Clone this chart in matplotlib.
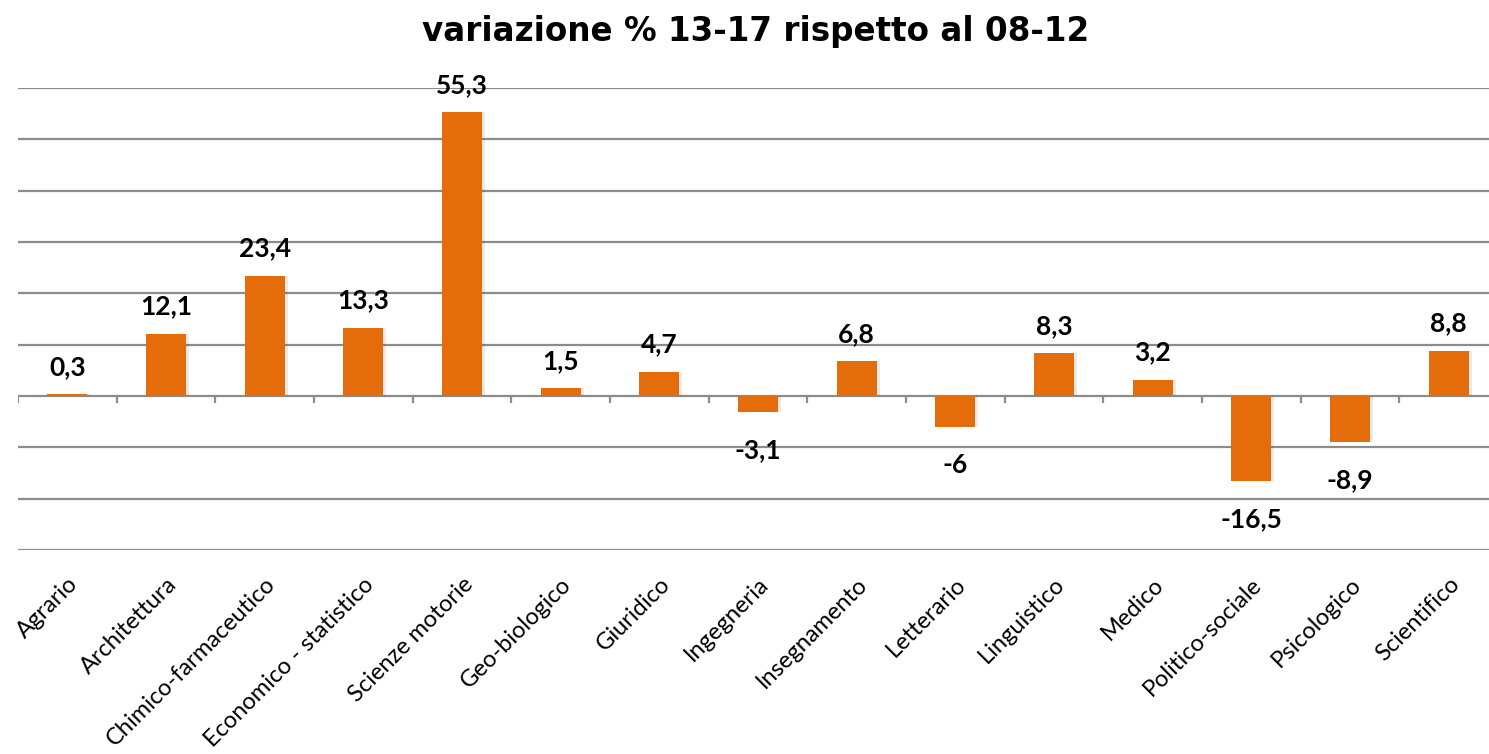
import numpy as np
import matplotlib.pyplot as plt

# dati: variazione % 13-17 rispetto al 08-12
categorie = ['Agrario', 'Architettura', 'Chimico-farmaceutico', 'Economico - statistico',
             'Scienze motorie', 'Geo-biologico', 'Giuridico', 'Ingegneria', 'Insegnamento',
             'Letterario', 'Linguistico', 'Medico', 'Politico-sociale', 'Psicologico',
             'Scientifico']
variazione = [0.3, 12.1, 23.4, 13.3, 55.3, 1.5, 4.7, -3.1, 6.8, -6, 8.3, 3.2, -16.5, -8.9, 8.8]

arancio = '#E46C0A'
grigio = '#8C8C8C'

fig = plt.figure(figsize=(14.89, 7.54), dpi=100)
# l'asse esce un po' a destra come nello screenshot originale
ax = fig.add_axes([18 / 1489, 204 / 754, 1480 / 1489, 462 / 754])

x = np.arange(len(categorie))

# ombra leggera sotto le barre
ax.bar(x + 0.03, variazione, width=0.405, color='#000000', alpha=0.08, zorder=2)
ax.bar(x, variazione, width=0.405, color=arancio, zorder=3)

ax.set_xlim(-0.5, len(categorie) - 0.5)
ax.set_ylim(-30, 60)
ax.set_yticks(np.arange(-30, 61, 10))
ax.yaxis.grid(True, color=grigio, linewidth=1.6)
ax.set_axisbelow(True)
ax.tick_params(axis='y', length=0, labelleft=False)

for s in ax.spines.values():
    s.set_visible(False)

# tacche sulla linea dello zero, ai confini tra le categorie
ax.vlines(np.arange(len(categorie) + 1) - 0.5, -1.4, 0, color=grigio, linewidth=1.6, zorder=1)

ax.set_xticks(x)
ax.set_xticklabels(categorie, rotation=45, ha='right', rotation_mode='anchor',
                   fontsize=17, family='Lato')
ax.tick_params(axis='x', length=0, pad=17)

# etichette dei valori
for xi, v in zip(x, variazione):
    testo = f'{v:g}'.replace('.', ',')
    if v >= 0:
        ax.annotate(testo, (xi, v), xytext=(0, 11), textcoords='offset points',
                    ha='center', va='bottom', fontsize=19, fontweight='bold', family='Lato')
    else:
        ax.annotate(testo, (xi, v), xytext=(0, -19), textcoords='offset points',
                    ha='center', va='top', fontsize=19, fontweight='bold', family='Lato')

fig.text(756 / 1489, 1 - 32 / 754, 'variazione % 13-17 rispetto al 08-12',
         ha='center', va='center', fontsize=23.5, fontweight='bold', family='DejaVu Sans')

fig.savefig('out.png', dpi=100)
